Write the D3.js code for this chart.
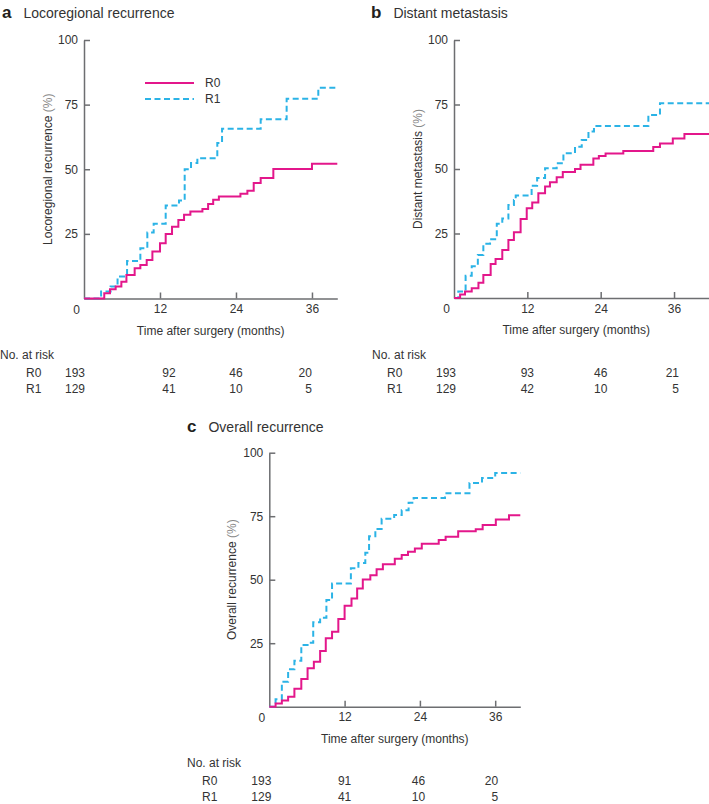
<!DOCTYPE html>
<html lang="en">
<head>
    <meta charset="UTF-8">
    <title>Recurrence by resection margin</title>
    <script src="https://d3js.org/d3.v7.min.js"></script>
    <style>
        body { margin: 0; background: white; font-family: "Liberation Sans", Arial, sans-serif; }
        svg { display: block; }
        text { fill: #333; }
    </style>
</head>
<body>
    <svg width="709" height="804"></svg>

    <script>
        // ---- data ----
        const groups = ["R0", "R1"];
        const riskMonths = [0, 12, 24, 36];
        const xTicks = [12, 24, 36];
        const yTicks = [25, 50, 75, 100];

        // a: locoregional recurrence
        const aR0Time = [0, 3.2, 4.1, 5.0, 5.9, 6.7, 8.0, 8.9, 9.9, 10.8, 12.0, 12.9, 13.9, 14.9, 15.8, 16.8, 18.7, 19.6, 20.4, 21.3, 24.7, 25.8, 26.8, 27.9, 29.9, 36.0];
        const aR0Value = [0, 2.0, 3.6, 4.6, 6.5, 9.1, 11.7, 13.0, 14.9, 18.2, 21.4, 25.0, 27.8, 30.4, 32.4, 33.7, 34.6, 36.6, 38.2, 39.5, 40.5, 41.7, 44.7, 46.6, 50.1, 52.1];
        const aR1Time = [0, 2.7, 4.2, 5.3, 6.8, 8.9, 10.0, 11.0, 12.9, 15.0, 15.9, 16.9, 17.9, 21.05, 21.8, 27.9, 32.0, 37.0];
        const aR1Value = [0, 2.7, 4.6, 8.5, 14.5, 19.4, 25.5, 28.9, 36.0, 37.9, 50.0, 52.4, 54.3, 60.2, 65.7, 69.3, 77.3, 81.5];
        const aRiskR0 = [193, 92, 46, 20];
        const aRiskR1 = [129, 41, 10, 5];

        // b: distant metastasis
        const bR0Time = [0, 1.0, 1.8, 2.9, 4.0, 4.8, 6.0, 6.8, 7.9, 8.9, 9.8, 10.9, 11.9, 12.8, 13.8, 14.9, 15.7, 16.8, 17.8, 19.8, 20.7, 22.8, 23.7, 24.8, 27.7, 32.6, 33.7, 35.8, 37.7];
        const bR0Value = [0, 1.4, 2.5, 3.8, 5.9, 8.9, 13.2, 15.1, 18.6, 22.5, 25.5, 30.6, 34.8, 37.0, 40.6, 43.2, 44.9, 46.8, 48.8, 50.0, 51.6, 54.1, 55.0, 56.0, 57.0, 58.5, 59.9, 61.8, 63.6];
        const bR1Time = [0, 0.7, 1.9, 2.9, 3.9, 4.8, 5.9, 7.0, 7.9, 8.9, 9.8, 10.1, 12.7, 13.6, 14.9, 16.8, 17.9, 19.8, 20.9, 22.0, 22.9, 31.8, 33.7];
        const bR1Value = [0, 2.5, 8.6, 12.3, 16.7, 21.0, 22.8, 28.8, 30.8, 36.0, 38.0, 39.7, 43.5, 46.5, 50.3, 52.2, 56.1, 58.6, 61.2, 64.5, 66.7, 70.9, 75.5];
        const bRiskR0 = [193, 93, 46, 21];
        const bRiskR1 = [129, 42, 10, 5];

        // c: overall recurrence
        const cR0Time = [0, 1.0, 2.0, 3.0, 4.0, 5.1, 6.1, 7.1, 8.1, 9.0, 10.0, 11.0, 12.0, 13.1, 14.0, 14.9, 16.1, 17.1, 18.1, 20.0, 21.1, 22.1, 23.2, 24.3, 27.0, 28.1, 30.1, 32.9, 34.0, 36.1, 38.2];
        const cR0Value = [0, 1.3, 2.4, 3.9, 7.1, 10.9, 15.1, 17.7, 21.9, 26.9, 29.5, 34.5, 39.7, 42.6, 46.5, 50.1, 51.8, 54.1, 56.1, 58.2, 59.7, 61.0, 62.3, 64.2, 65.6, 66.9, 69.1, 69.9, 71.5, 73.7, 75.4];
        const cR1Time = [0, 1.0, 2.0, 3.0, 4.0, 5.1, 6.1, 7.0, 8.1, 9.1, 10.0, 13.0, 14.2, 15.3, 15.9, 16.9, 17.9, 19.9, 21.1, 22.2, 23.0, 28.0, 31.9, 33.9, 36.0];
        const cR1Value = [0, 2.9, 9.8, 14.7, 18.1, 24.3, 25.2, 33.2, 35.0, 42.0, 48.5, 54.5, 56.6, 60.6, 67.1, 70.0, 74.0, 75.5, 77.3, 80.3, 82.2, 84.0, 88.1, 90.0, 92.0];
        const cRiskR0 = [193, 91, 46, 20];
        const cRiskR1 = [129, 41, 10, 5];

        const colors = { R0: "#e3178b", R1: "#2bb3e6" };
        const axisColor = "#6d6e71";

        const svg = d3.select("svg");
        svg.append("rect").attr("width", 709).attr("height", 804).attr("fill", "white");

        const panels = [
            { letter: "a", title: "Locoregional recurrence", ylabel: "Locoregional recurrence",
              left: 84, right: 337.3, top: 40, bottom: 298.5, xMax: 40,
              r0: [aR0Time, aR0Value], r1: [aR1Time, aR1Value], risk: [aRiskR0, aRiskR1],
              titleX: 2, titleY: 18, ylabelX: 48, riskX: 0, rowX: 26, riskY: 359, riskDx: [-9, 9, 0, 0],
              legend: true },
            { letter: "b", title: "Distant metastasis", ylabel: "Distant metastasis",
              left: 454, right: 710.7, top: 40, bottom: 298, xMax: 42,
              r0: [bR0Time, bR0Value], r1: [bR1Time, bR1Value], risk: [bRiskR0, bRiskR1],
              titleX: 371, titleY: 18, ylabelX: 418, riskX: 372, rowX: 387, riskY: 359, riskDx: [-8, 0, 0, 5],
              legend: false },
            { letter: "c", title: "Overall recurrence", ylabel: "Overall recurrence",
              left: 269.3, right: 520.3, top: 452.7, bottom: 706.7, xMax: 40,
              r0: [cR0Time, cR0Value], r1: [cR1Time, cR1Value], risk: [cRiskR0, cRiskR1],
              titleX: 187, titleY: 432, ylabelX: 232, riskX: 187, rowX: 202, riskY: 767, riskDx: [-8, 0, -1.5, 3],
              legend: false }
        ];

        panels.forEach(p => drawPanel(p));

        function drawPanel(p) {
            const g = svg.append("g");
            const x = d3.scaleLinear().domain([0, p.xMax]).range([p.left, p.right]);
            const y = d3.scaleLinear().domain([0, 100]).range([p.bottom, p.top]);

            // title
            const t = g.append("text").attr("x", p.titleX).attr("y", p.titleY);
            t.append("tspan").text(p.letter).attr("font-weight", "bold").attr("font-size", 17).style("fill", "#231f20");
            t.append("tspan").text(p.title).attr("dx", 12).attr("font-size", 14);

            // axes
            const xAxis = d3.axisBottom(x).tickValues(xTicks).tickSizeInner(-6).tickSizeOuter(0).tickPadding(10);
            const gx = g.append("g").attr("transform", `translate(0,${p.bottom})`).call(xAxis);
            const yAxis = d3.axisLeft(y).tickValues(yTicks).tickSizeInner(-6).tickSizeOuter(0).tickPadding(6);
            const gy = g.append("g").attr("transform", `translate(${p.left},0)`).call(yAxis);
            [gx, gy].forEach(a => {
                a.select(".domain").attr("stroke", axisColor).attr("stroke-width", 1.5);
                a.selectAll(".tick line").attr("stroke", axisColor).attr("stroke-width", 1.5);
                a.selectAll(".tick text").attr("font-size", 12).attr("font-family", "Liberation Sans, Arial, sans-serif").style("fill", "#333");
            });
            gx.selectAll(".tick text").attr("dy", "0.71em").attr("y", 6);
            g.append("text").attr("x", p.left - 4).attr("y", p.bottom + 15)
                .attr("text-anchor", "end").attr("font-size", 12).text("0");

            // axis labels
            g.append("text").attr("x", x(20)).attr("y", p.bottom + 36)
                .attr("text-anchor", "middle").attr("font-size", 12).text("Time after surgery (months)");
            const yl = g.append("text").attr("transform", `translate(${p.ylabelX},${y(50)}) rotate(-90)`)
                .attr("text-anchor", "middle").attr("dy", "0.35em").attr("font-size", 12);
            yl.append("tspan").text(p.ylabel + " ");
            yl.append("tspan").text("(%)").style("fill", "#888");

            // curves
            const line = d3.line().x(d => x(d[0])).y(d => y(d[1])).curve(d3.curveStepAfter);
            const series = [["R1", p.r1], ["R0", p.r0]];
            series.forEach(([name, [times, vals]]) => {
                const pts = times.map((tm, i) => [tm, vals[i]]);
                pts.push([p.xMax, vals[vals.length - 1]]);
                g.append("path").datum(pts).attr("d", line)
                    .attr("fill", "none").attr("stroke", colors[name]).attr("stroke-width", 2)
                    .attr("stroke-dasharray", name === "R1" ? "6,3.5" : null);
            });

            // legend
            if (p.legend) {
                groups.forEach((name, i) => {
                    const ly = 83 + i * 16;
                    g.append("line").attr("x1", 145).attr("x2", 194).attr("y1", ly).attr("y2", ly)
                        .attr("stroke", colors[name]).attr("stroke-width", 2)
                        .attr("stroke-dasharray", name === "R1" ? "6,3.5" : null);
                    g.append("text").attr("x", 205).attr("y", ly).attr("dy", "0.35em")
                        .attr("font-size", 12).text(name);
                });
            }

            // number at risk
            g.append("text").attr("x", p.riskX).attr("y", p.riskY).attr("font-size", 12).text("No. at risk");
            groups.forEach((name, r) => {
                const ry = p.riskY + 18 + r * 16;
                g.append("text").attr("x", p.rowX).attr("y", ry).attr("font-size", 12).text(name);
                p.risk[r].forEach((n, k) => {
                    g.append("text").attr("x", x(riskMonths[k]) + p.riskDx[k]).attr("y", ry)
                        .attr("text-anchor", k === 3 ? "end" : "middle")
                        .attr("font-size", 12).text(n);
                });
            });
        }
    </script>
</body>
</html>
